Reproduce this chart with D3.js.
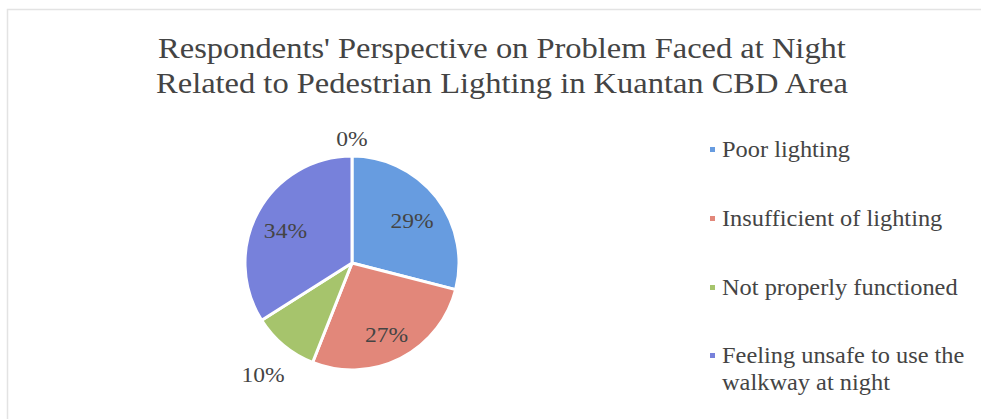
<!DOCTYPE html>
<html>
<head>
<meta charset="utf-8">
<script src="https://cdn.jsdelivr.net/npm/d3@7"></script>
<style>
  html, body { margin: 0; padding: 0; background: #fff; }
  svg { display: block; }
</style>
</head>
<body>
<svg id="chart" width="981" height="419"></svg>
<script>
// Survey categories (the last one is an unnamed zero entry that only shows a label)
const categories = [
  "Poor lighting",
  "Insufficient of lighting",
  "Not properly functioned",
  "Feeling unsafe to use the walkway at night",
  ""
];
const values = [29, 27, 10, 34, 0];
const colors = ["#679ce0", "#e2877a", "#a6c46c", "#7781db", "#999999"];
const titleLines = [
  "Respondents' Perspective on Problem Faced at Night",
  "Related to Pedestrian Lighting in Kuantan CBD Area"
];
// Legend text, wrapped as in the chart
const legendLines = [
  ["Poor lighting"],
  ["Insufficient of lighting"],
  ["Not properly functioned"],
  ["Feeling unsafe to use the", "walkway at night"]
];

const svg = d3.select("#chart");
const textColor = "#444";
const serif = "Liberation Serif, Times New Roman, serif";

// widen glyphs slightly, keeping the text as real text
function stretch(sel, factor) {
  sel.each(function () {
    const w = this.getComputedTextLength();
    d3.select(this)
      .attr("textLength", w * factor)
      .attr("lengthAdjust", "spacingAndGlyphs");
  });
}

// chart frame
svg.append("rect")
  .attr("x", 7.5).attr("y", 9.5)
  .attr("width", 990).attr("height", 420)
  .attr("fill", "#fff")
  .attr("stroke", "#e3e3e3").attr("stroke-width", 1.5);

// title
const title = svg.append("g").selectAll("text")
  .data(titleLines)
  .join("text")
  .attr("x", 502)
  .attr("y", (d, i) => 58 + i * 35)
  .attr("text-anchor", "middle")
  .attr("font-family", serif)
  .attr("font-size", 29)
  .attr("fill", textColor)
  .text(d => d);
stretch(title, 1.12);

// pie
const cx = 352, cy = 263, r = 107;
const data = categories.map((c, i) => ({ name: c, value: values[i], color: colors[i] }));
const pie = d3.pie().sort(null).value(d => d.value);
const arcs = pie(data);
const arc = d3.arc().innerRadius(0).outerRadius(r);

const g = svg.append("g").attr("transform", `translate(${cx},${cy})`);
g.selectAll("path")
  .data(arcs.filter(a => a.data.value > 0))
  .join("path")
  .attr("d", arc)
  .attr("fill", d => d.data.color)
  .attr("stroke", "#fff")
  .attr("stroke-width", 3)
  .attr("stroke-linejoin", "round");

// data labels: inside for large slices, outside for small ones
const labels = g.selectAll("text.lbl")
  .data(arcs)
  .join("text")
  .attr("class", "lbl")
  .attr("text-anchor", "middle")
  .attr("dominant-baseline", "central")
  .attr("font-family", serif)
  .attr("font-size", 22)
  .attr("fill", textColor)
  .text(d => d.data.value + "%");
stretch(labels, 1.07);

labels.each(function (d) {
  const a = (d.startAngle + d.endAngle) / 2;
  const sx = Math.sin(a), sy = -Math.cos(a);
  let dist;
  if (d.data.value >= 15) {
    dist = r * 0.71;
  } else {
    const bb = this.getBBox();
    dist = r + 9 + Math.abs(sx) * bb.width / 2 + Math.abs(sy) * bb.height / 2;
  }
  d3.select(this).attr("x", sx * dist).attr("y", sy * dist + 4);
});

// legend
const legend = svg.append("g").attr("transform", "translate(710,0)");
const rowY = [157, 226, 295, 363];
const items = legend.selectAll("g")
  .data(data.filter(d => d.name !== ""))
  .join("g")
  .attr("transform", (d, i) => `translate(0,${rowY[i]})`);
items.append("rect")
  .attr("x", 0).attr("y", -10)
  .attr("width", 5).attr("height", 5)
  .attr("fill", d => d.color);
const legendText = items.append("text")
  .attr("font-family", serif)
  .attr("font-size", 23)
  .attr("fill", textColor)
  .selectAll("tspan")
  .data((d, i) => legendLines[i])
  .join("tspan")
  .attr("x", 12)
  .attr("dy", (t, j) => j === 0 ? 0 : 27)
  .text(t => t);
stretch(legendText, 1.06);
</script>
</body>
</html>
